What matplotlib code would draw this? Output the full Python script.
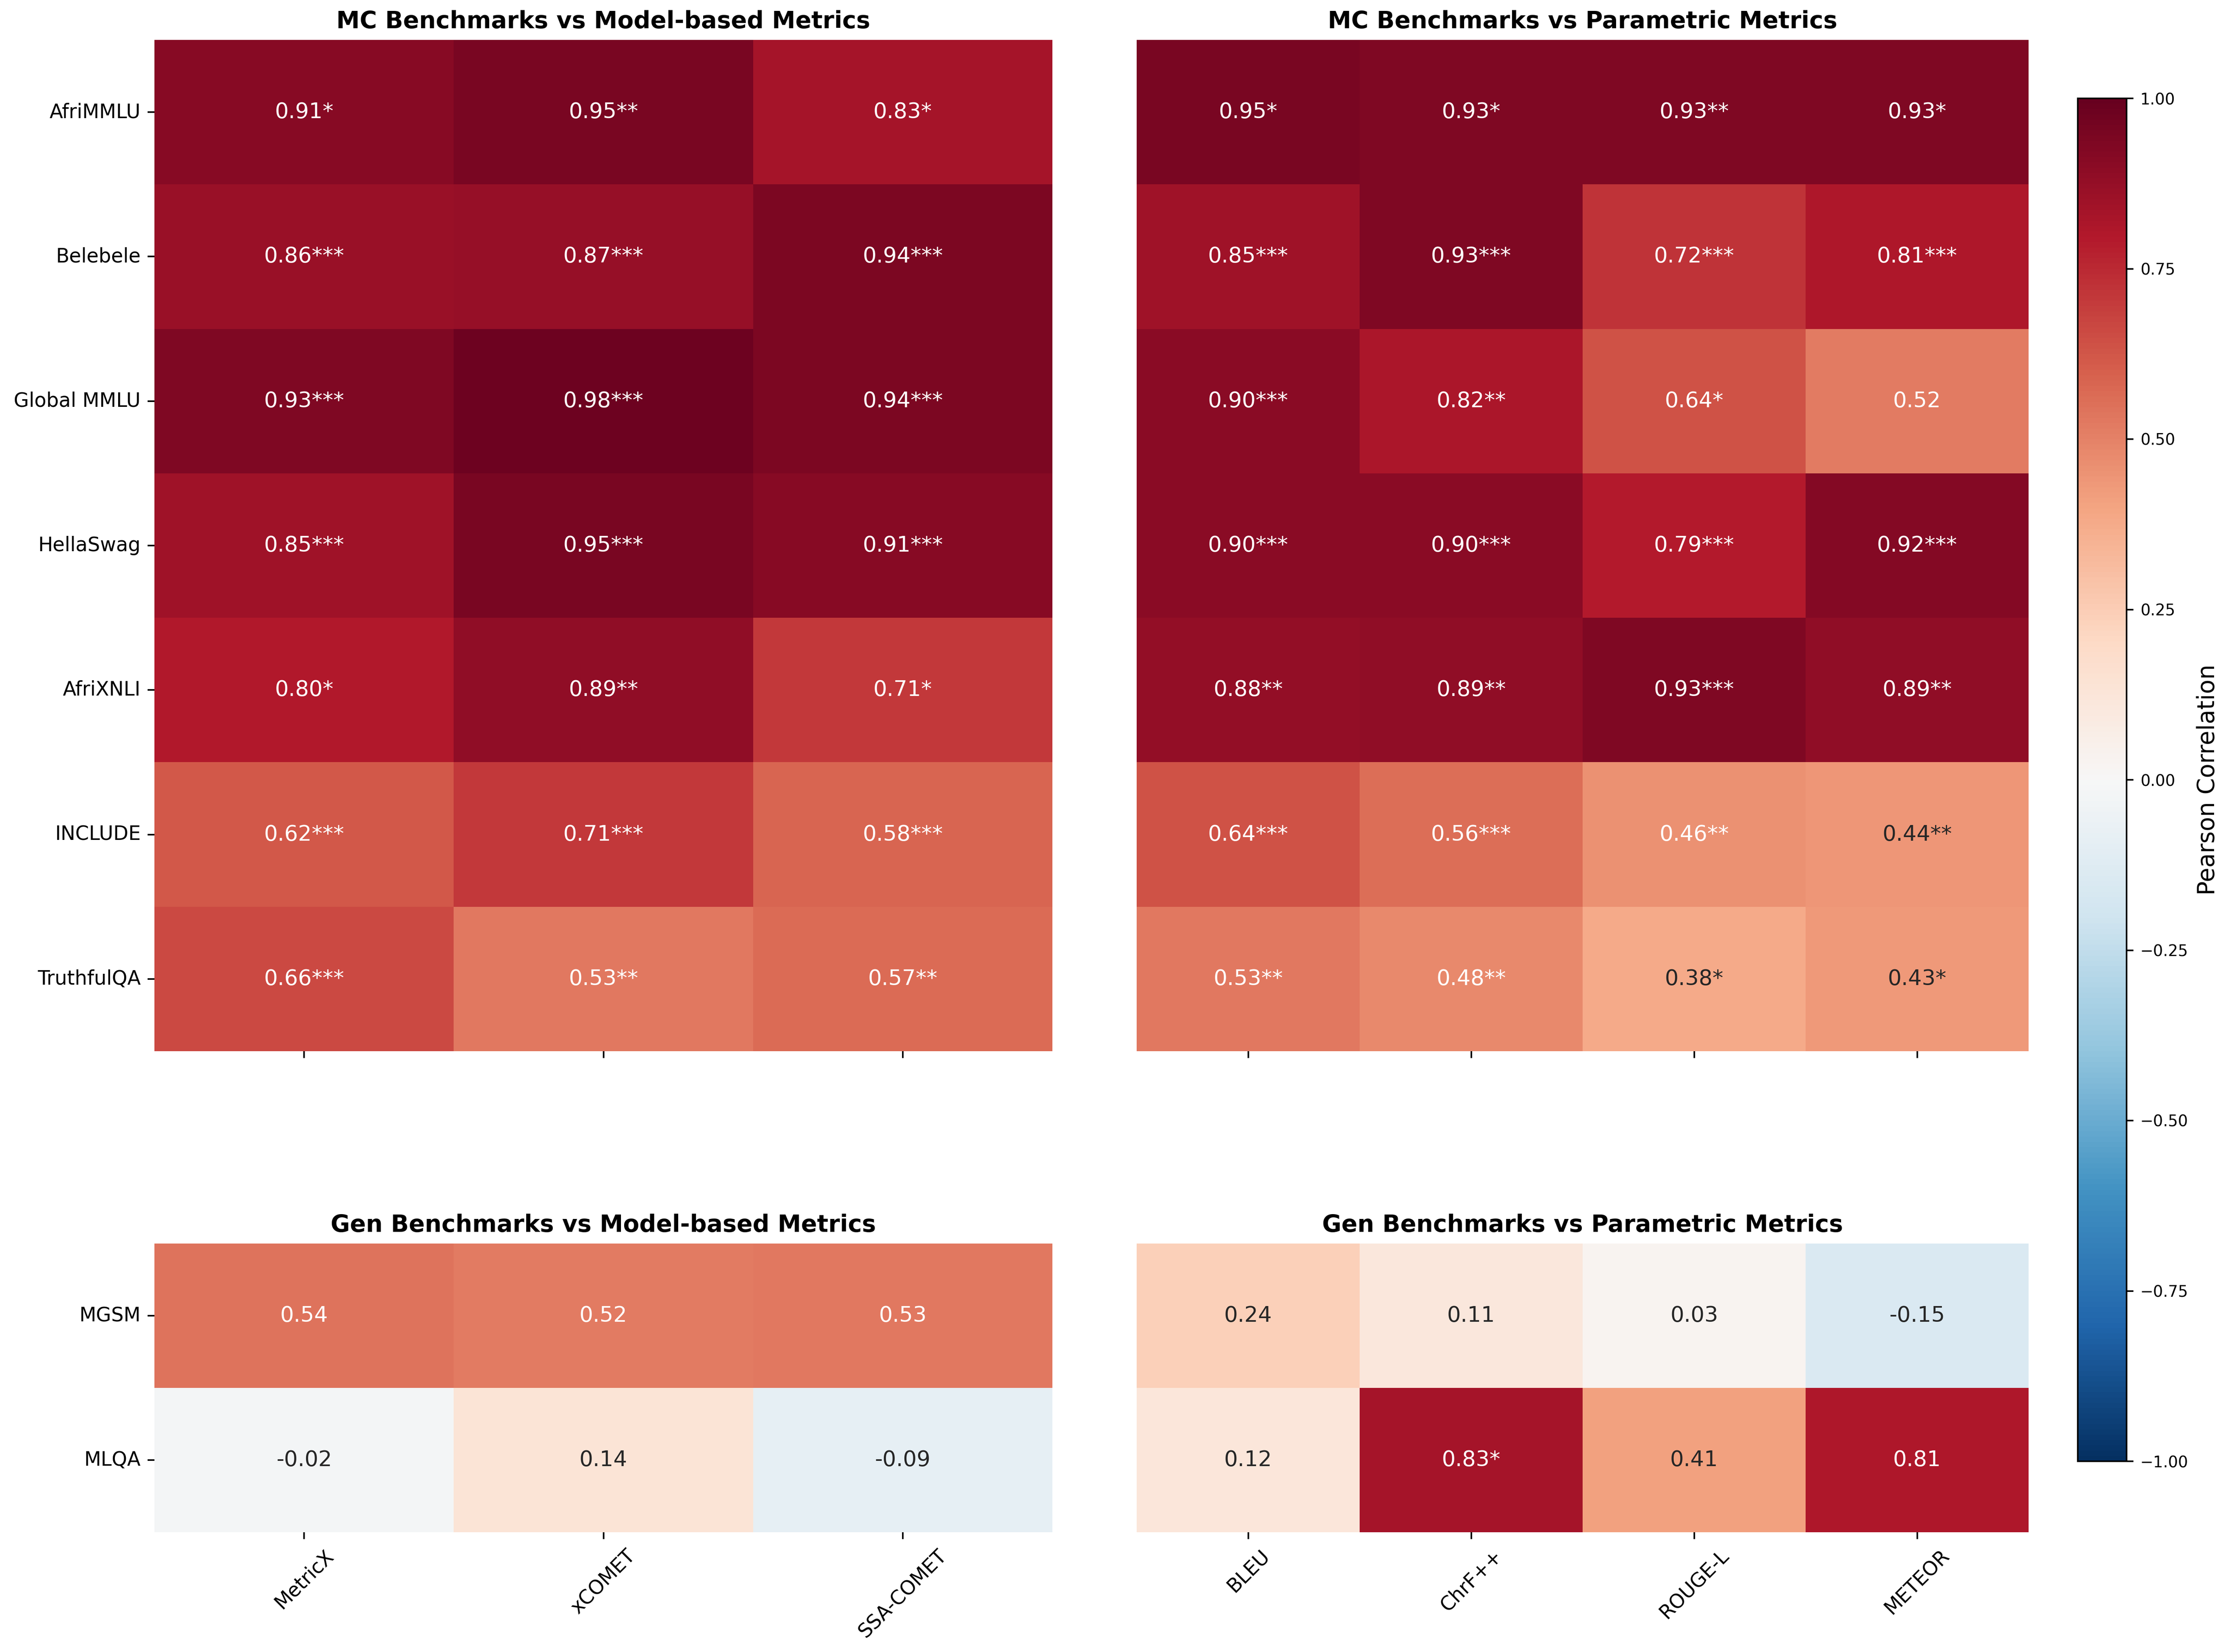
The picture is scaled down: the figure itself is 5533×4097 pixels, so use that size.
#!/usr/bin/env python
# Correlation heatmaps: MC / Gen benchmarks vs model-based & parametric metrics
import numpy as np
import matplotlib
matplotlib.use("Agg")
import matplotlib.pyplot as plt
import seaborn as sns

mc_bench = ["AfriMMLU", "Belebele", "Global MMLU", "HellaSwag", "AfriXNLI", "INCLUDE", "TruthfulQA"]
gen_bench = ["MGSM", "MLQA"]
model_metrics = ["MetricX", "xCOMET", "SSA-COMET"]
param_metrics = ["BLEU", "ChrF++", "ROUGE-L", "METEOR"]

# pearson r
mc_model = [[0.91, 0.95, 0.83],
            [0.86, 0.87, 0.94],
            [0.93, 0.98, 0.94],
            [0.85, 0.95, 0.91],
            [0.80, 0.89, 0.71],
            [0.62, 0.71, 0.58],
            [0.66, 0.53, 0.57]]
mc_param = [[0.95, 0.93, 0.93, 0.93],
            [0.85, 0.93, 0.72, 0.81],
            [0.90, 0.82, 0.64, 0.52],
            [0.90, 0.90, 0.79, 0.92],
            [0.88, 0.89, 0.93, 0.89],
            [0.64, 0.56, 0.46, 0.44],
            [0.53, 0.48, 0.38, 0.43]]
gen_model = [[0.54, 0.52, 0.53],
             [-0.02, 0.14, -0.09]]
gen_param = [[0.24, 0.11, 0.03, -0.15],
             [0.12, 0.83, 0.41, 0.81]]

# significance stars
mc_model_sig = [["*", "**", "*"],
                ["***", "***", "***"],
                ["***", "***", "***"],
                ["***", "***", "***"],
                ["*", "**", "*"],
                ["***", "***", "***"],
                ["***", "**", "**"]]
mc_param_sig = [["*", "*", "**", "*"],
                ["***", "***", "***", "***"],
                ["***", "**", "*", ""],
                ["***", "***", "***", "***"],
                ["**", "**", "***", "**"],
                ["***", "***", "**", "**"],
                ["**", "**", "*", "*"]]
gen_model_sig = [["", "", ""],
                 ["", "", ""]]
gen_param_sig = [["", "", "", ""],
                 ["", "*", "", ""]]

W, H, DPI = 5533, 4097, 350
fig = plt.figure(figsize=(W / DPI, H / DPI), dpi=DPI)

def annot(vals, sig):
    v = np.array(vals)
    return np.array([[f"{v[i, j]:.2f}{sig[i][j]}" for j in range(v.shape[1])]
                     for i in range(v.shape[0])])

def panel(rect, vals, sig, cols, rows, title, show_x, show_y):
    ax = fig.add_axes(rect)
    sns.heatmap(np.array(vals), ax=ax, cmap="RdBu_r", vmin=-1, vmax=1,
                annot=annot(vals, sig), fmt="", cbar=False,
                annot_kws={"size": 11}, xticklabels=cols, yticklabels=rows)
    ax.set_title(title, fontsize=12, weight="bold")
    if show_x:
        ax.set_xticklabels(cols, rotation=45, fontsize=10)
    else:
        ax.set_xticklabels([])
    if show_y:
        ax.set_yticklabels(rows, rotation=0, fontsize=10)
    else:
        ax.set_yticks([])
    return ax

lx, lw = 383 / W, (2610 - 383) / W
rx, rw = 2819 / W, (5031 - 2819) / W
ty, th = 1 - 2607 / H, (2607 - 99) / H
by, bh = 1 - 3800 / H, (3800 - 3084) / H

panel([lx, ty, lw, th], mc_model, mc_model_sig, model_metrics, mc_bench,
      "MC Benchmarks vs Model-based Metrics", False, True)
panel([rx, ty, rw, th], mc_param, mc_param_sig, param_metrics, mc_bench,
      "MC Benchmarks vs Parametric Metrics", False, False)
panel([lx, by, lw, bh], gen_model, gen_model_sig, model_metrics, gen_bench,
      "Gen Benchmarks vs Model-based Metrics", True, True)
ax = panel([rx, by, rw, bh], gen_param, gen_param_sig, param_metrics, gen_bench,
           "Gen Benchmarks vs Parametric Metrics", True, False)

cax = fig.add_axes([5153 / W, 1 - 3624 / H, 121 / W, (3624 - 244) / H])
cb = fig.colorbar(ax.collections[0], cax=cax)
cb.set_label("Pearson Correlation", fontsize=12)
cb.ax.tick_params(labelsize=8)

fig.savefig("out.png", dpi=DPI)
print("done")
